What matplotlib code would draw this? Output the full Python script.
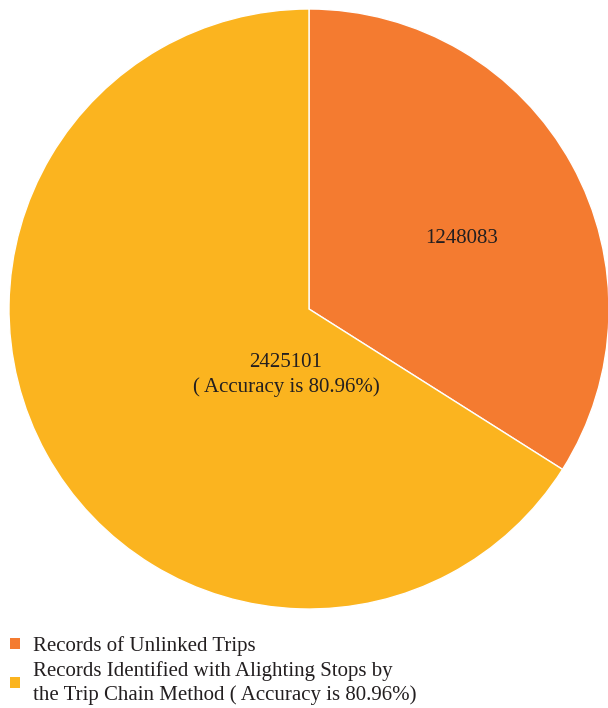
import matplotlib.pyplot as plt
from matplotlib.patches import Patch

plt.rcParams['font.family'] = ['Liberation Serif', 'DejaVu Serif']

labels = ['Records of Unlinked Trips',
          'Records Identified with Alighting Stops by\nthe Trip Chain Method ( Accuracy is 80.96%)']
values = [1248083, 2425101]
colors = ['#F47B30', '#FBB41F']
slice_text = ['1248083', '2425101\n( Accuracy is 80.96%)']
text_pos = [(0.51, 0.235), (-0.077, -0.22)]
txt_col = '#231F20'

fig = plt.figure(figsize=(6.08, 7.08), dpi=100)
ax = fig.add_axes([9 / 608, 99 / 708, 600 / 608, 600 / 708])
ax.pie(values, colors=colors, startangle=90, counterclock=False, radius=1,
       wedgeprops=dict(edgecolor='white', linewidth=1))
for t, (x, y) in zip(slice_text, text_pos):
    ax.text(x, y, t, ha='center', va='center', fontsize=15, color=txt_col,
            linespacing=1.4)
ax.set_xlim(-1.0, 1.0)
ax.set_ylim(-1.0, 1.0)
ax.set_aspect('equal')
ax.axis('off')

handles = [Patch(facecolor=c, edgecolor='none') for c in colors]
leg = fig.legend(handles, labels, loc='upper left', bbox_to_anchor=(6 / 608, 76 / 708),
                 frameon=False, fontsize=15, handlelength=0.45, handleheight=0.45,
                 handletextpad=0.65, labelspacing=0.25, borderaxespad=0, borderpad=0.2)
for t in leg.get_texts():
    t.set_color(txt_col)
    t.set_linespacing(1.25)

fig.savefig('out.png', dpi=100)
